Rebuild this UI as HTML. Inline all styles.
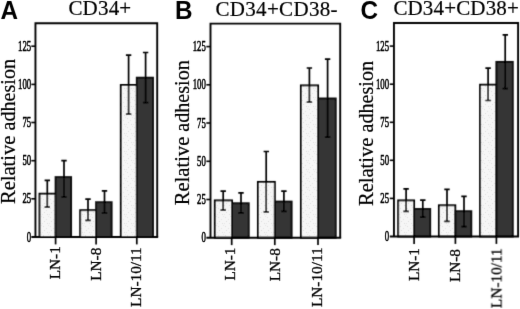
<!DOCTYPE html>
<html><head><meta charset="utf-8"><title>Relative adhesion</title>
<style>
html,body{margin:0;padding:0;background:#fff;}
body{width:520px;height:309px;overflow:hidden;}
svg{display:block;}
text{font-family:"Liberation Serif",serif;fill:#000;}
.b{font-family:"Liberation Sans",sans-serif;font-weight:bold;}
</style></head><body>
<svg width="520" height="309" viewBox="0 0 520 309">
<defs>
<pattern id="stip" width="7" height="9" patternUnits="userSpaceOnUse">
<rect width="7" height="9" fill="#f6f6f6"/>
<rect x="1" y="1" width="1" height="1" fill="#dedede"/><rect x="4" y="3" width="1" height="1" fill="#e2e2e2"/><rect x="2" y="5" width="1" height="1" fill="#dadada"/><rect x="5" y="7" width="1" height="1" fill="#dcdcdc"/><rect x="6" y="0" width="1" height="1" fill="#e6e6e6"/><rect x="0" y="7" width="1" height="1" fill="#e4e4e4"/>
</pattern>
<filter id="soft" x="-2%" y="-2%" width="104%" height="104%"><feConvolveMatrix order="3" kernelMatrix="1 6 1 6 36 6 1 6 1" divisor="64" edgeMode="duplicate" preserveAlpha="false"/></filter>
<filter id="soft2" x="-2%" y="-2%" width="104%" height="104%"><feConvolveMatrix order="3" kernelMatrix="0 1 0 1 12 1 0 1 0" divisor="16" edgeMode="duplicate" preserveAlpha="false"/></filter>
</defs>
<rect width="520" height="309" fill="#fff"/>
<g filter="url(#soft)">
<!-- panel A shapes -->
<path d="M35.45,237.0 V23.25 H157.2 V237.0" fill="none" stroke="#000" stroke-width="1.9"/>
<rect x="39.5" y="193.7" width="16.2" height="43.3" fill="url(#stip)" stroke="#000" stroke-width="1.9"/>
<rect x="55.6" y="177.1" width="15.5" height="59.9" fill="#343434" stroke="#0a0a0a" stroke-width="1.9"/>
<path d="M47.3,180.2 V207.2 M44.6,180.4 h5.4 M44.6,207.2 h5.4" fill="none" stroke="#000" stroke-width="1.7"/>
<path d="M64.0,160.5 V197.0 M61.3,160.7 h5.4 M61.3,197.0 h5.4" fill="none" stroke="#000" stroke-width="1.7"/>
<rect x="80.2" y="210.2" width="15.8" height="26.8" fill="url(#stip)" stroke="#000" stroke-width="1.9"/>
<rect x="96.1" y="202.2" width="15.5" height="34.8" fill="#343434" stroke="#0a0a0a" stroke-width="1.9"/>
<path d="M88.0,199.0 V220.3 M85.3,199.2 h5.4 M85.3,220.3 h5.4" fill="none" stroke="#000" stroke-width="1.7"/>
<path d="M104.5,190.7 V212.9 M101.8,190.9 h5.4 M101.8,212.9 h5.4" fill="none" stroke="#000" stroke-width="1.7"/>
<rect x="120.8" y="85.0" width="16.1" height="152.0" fill="url(#stip)" stroke="#000" stroke-width="1.9"/>
<rect x="136.8" y="77.7" width="16.2" height="159.3" fill="#343434" stroke="#0a0a0a" stroke-width="1.9"/>
<path d="M128.6,55.0 V114.2 M125.9,55.2 h5.4 M125.9,114.2 h5.4" fill="none" stroke="#000" stroke-width="1.7"/>
<path d="M145.6,52.3 V102.6 M142.9,52.5 h5.4 M142.9,102.6 h5.4" fill="none" stroke="#000" stroke-width="1.7"/>
<path d="M31.250000000000004,237.0 H158.14999999999998" fill="none" stroke="#000" stroke-width="2.0"/>
<path d="M31.250000000000004,198.8 H35.45" stroke="#000" stroke-width="1.6"/>
<path d="M31.250000000000004,160.7 H35.45" stroke="#000" stroke-width="1.6"/>
<path d="M31.250000000000004,122.5 H35.45" stroke="#000" stroke-width="1.6"/>
<path d="M31.250000000000004,84.4 H35.45" stroke="#000" stroke-width="1.6"/>
<path d="M31.250000000000004,46.2 H35.45" stroke="#000" stroke-width="1.6"/>
<path d="M55.6,237.0 V244.4" stroke="#000" stroke-width="1.7"/>
<path d="M96.1,237.0 V244.4" stroke="#000" stroke-width="1.7"/>
<path d="M136.8,237.0 V244.4" stroke="#000" stroke-width="1.7"/>
<!-- panel B shapes -->
<path d="M210.5,237.7 V23.6 H340.2 V237.7" fill="none" stroke="#000" stroke-width="1.9"/>
<rect x="214.8" y="200.4" width="17.2" height="37.3" fill="url(#stip)" stroke="#000" stroke-width="1.9"/>
<rect x="232.0" y="203.3" width="16.7" height="34.4" fill="#343434" stroke="#0a0a0a" stroke-width="1.9"/>
<path d="M223.2,190.9 V210.2 M220.5,191.1 h5.4 M220.5,210.2 h5.4" fill="none" stroke="#000" stroke-width="1.7"/>
<path d="M241.0,192.6 V212.9 M238.3,192.8 h5.4 M238.3,212.9 h5.4" fill="none" stroke="#000" stroke-width="1.7"/>
<rect x="257.9" y="181.9" width="16.9" height="55.8" fill="url(#stip)" stroke="#000" stroke-width="1.9"/>
<rect x="274.9" y="201.6" width="16.7" height="36.1" fill="#343434" stroke="#0a0a0a" stroke-width="1.9"/>
<path d="M266.2,151.3 V211.9 M263.6,151.5 h5.4 M263.6,211.9 h5.4" fill="none" stroke="#000" stroke-width="1.7"/>
<path d="M283.9,190.9 V211.4 M281.2,191.1 h5.4 M281.2,211.4 h5.4" fill="none" stroke="#000" stroke-width="1.7"/>
<rect x="300.9" y="85.4" width="17.2" height="152.3" fill="url(#stip)" stroke="#000" stroke-width="1.9"/>
<rect x="318.1" y="98.5" width="17.6" height="139.2" fill="#343434" stroke="#0a0a0a" stroke-width="1.9"/>
<path d="M309.4,67.8 V102.2 M306.7,68.0 h5.4 M306.7,102.2 h5.4" fill="none" stroke="#000" stroke-width="1.7"/>
<path d="M327.6,59.0 V137.2 M324.9,59.2 h5.4 M324.9,137.2 h5.4" fill="none" stroke="#000" stroke-width="1.7"/>
<path d="M206.3,237.7 H341.15" fill="none" stroke="#000" stroke-width="2.0"/>
<path d="M206.3,199.5 H210.5" stroke="#000" stroke-width="1.6"/>
<path d="M206.3,161.3 H210.5" stroke="#000" stroke-width="1.6"/>
<path d="M206.3,123.0 H210.5" stroke="#000" stroke-width="1.6"/>
<path d="M206.3,84.8 H210.5" stroke="#000" stroke-width="1.6"/>
<path d="M206.3,46.6 H210.5" stroke="#000" stroke-width="1.6"/>
<path d="M231.7,237.7 V245.1" stroke="#000" stroke-width="1.7"/>
<path d="M274.8,237.7 V245.1" stroke="#000" stroke-width="1.7"/>
<path d="M318.0,237.7 V245.1" stroke="#000" stroke-width="1.7"/>
<!-- panel C shapes -->
<path d="M393.95,236.5 V23.0 H518.1 V236.5" fill="none" stroke="#000" stroke-width="1.9"/>
<rect x="398.2" y="200.4" width="15.9" height="36.1" fill="url(#stip)" stroke="#000" stroke-width="1.9"/>
<rect x="414.2" y="209.0" width="16.0" height="27.5" fill="#343434" stroke="#0a0a0a" stroke-width="1.9"/>
<path d="M406.1,188.7 V211.3 M403.4,188.9 h5.4 M403.4,211.3 h5.4" fill="none" stroke="#000" stroke-width="1.7"/>
<path d="M422.8,200.0 V217.1 M420.1,200.2 h5.4 M420.1,217.1 h5.4" fill="none" stroke="#000" stroke-width="1.7"/>
<rect x="438.9" y="205.3" width="16.4" height="31.2" fill="url(#stip)" stroke="#000" stroke-width="1.9"/>
<rect x="455.4" y="211.2" width="15.9" height="25.3" fill="#343434" stroke="#0a0a0a" stroke-width="1.9"/>
<path d="M447.0,189.2 V221.4 M444.3,189.4 h5.4 M444.3,221.4 h5.4" fill="none" stroke="#000" stroke-width="1.7"/>
<path d="M464.0,196.2 V226.7 M461.3,196.4 h5.4 M461.3,226.7 h5.4" fill="none" stroke="#000" stroke-width="1.7"/>
<rect x="480.1" y="84.7" width="16.2" height="151.8" fill="url(#stip)" stroke="#000" stroke-width="1.9"/>
<rect x="496.4" y="61.9" width="16.4" height="174.6" fill="#343434" stroke="#0a0a0a" stroke-width="1.9"/>
<path d="M488.1,68.0 V100.5 M485.4,68.2 h5.4 M485.4,100.5 h5.4" fill="none" stroke="#000" stroke-width="1.7"/>
<path d="M505.2,34.6 V88.7 M502.6,34.8 h5.4 M502.6,88.7 h5.4" fill="none" stroke="#000" stroke-width="1.7"/>
<path d="M389.75,236.5 H519.0500000000001" fill="none" stroke="#000" stroke-width="2.0"/>
<path d="M389.75,198.4 H393.95" stroke="#000" stroke-width="1.6"/>
<path d="M389.75,160.3 H393.95" stroke="#000" stroke-width="1.6"/>
<path d="M389.75,122.3 H393.95" stroke="#000" stroke-width="1.6"/>
<path d="M389.75,84.2 H393.95" stroke="#000" stroke-width="1.6"/>
<path d="M389.75,46.1 H393.95" stroke="#000" stroke-width="1.6"/>
<path d="M414.1,236.5 V243.9" stroke="#000" stroke-width="1.7"/>
<path d="M455.4,236.5 V243.9" stroke="#000" stroke-width="1.7"/>
<path d="M496.4,236.5 V243.9" stroke="#000" stroke-width="1.7"/>
</g>
<g filter="url(#soft2)">
<!-- panel A text -->
<text class="b" transform="translate(0.6,18.8) scale(1,1.055)" font-size="24.3">A</text>
<text x="68.4" y="15.2" font-size="21" letter-spacing="0.2" stroke="#000" stroke-width="0.2">CD34+</text>
<text transform="translate(15.1,204.1) rotate(-90)" font-size="21" textLength="68.6" lengthAdjust="spacingAndGlyphs" stroke="#000" stroke-width="0.2">Relative</text>
<text transform="translate(15.1,130.5) rotate(-90)" font-size="21" textLength="71.5" lengthAdjust="spacingAndGlyphs" stroke="#000" stroke-width="0.2">adhesion</text>
<text transform="translate(31.2,241.5) scale(0.61,1)" text-anchor="end" font-size="14.4" stroke="#000" stroke-width="0.6">0</text>
<text transform="translate(31.2,203.3) scale(0.61,1)" text-anchor="end" font-size="14.4" stroke="#000" stroke-width="0.6">25</text>
<text transform="translate(31.2,165.2) scale(0.61,1)" text-anchor="end" font-size="14.4" stroke="#000" stroke-width="0.6">50</text>
<text transform="translate(31.2,127.0) scale(0.61,1)" text-anchor="end" font-size="14.4" stroke="#000" stroke-width="0.6">75</text>
<text transform="translate(31.2,88.9) scale(0.61,1)" text-anchor="end" font-size="14.4" stroke="#000" stroke-width="0.6">100</text>
<text transform="translate(31.2,50.7) scale(0.61,1)" text-anchor="end" font-size="14.4" stroke="#000" stroke-width="0.6">125</text>
<text transform="translate(60.4,246.2) rotate(-90) scale(1.025,1)" text-anchor="end" font-size="14.9" stroke="#000" stroke-width="0.3">LN-1</text>
<text transform="translate(101.3,247.7) rotate(-90) scale(1.025,1)" text-anchor="end" font-size="14.9" stroke="#000" stroke-width="0.3">LN-8</text>
<text transform="translate(140.6,247.3) rotate(-90) scale(1.025,1)" text-anchor="end" font-size="14.9" stroke="#000" stroke-width="0.3">LN-10/11</text>
<!-- panel B text -->
<text class="b" transform="translate(175.1,18.8) scale(1,1.055)" font-size="24.3">B</text>
<text x="215.4" y="16.4" font-size="21" letter-spacing="0.33" stroke="#000" stroke-width="0.2">CD34+CD38-</text>
<text transform="translate(189.1,205.3) rotate(-90)" font-size="21" textLength="68.6" lengthAdjust="spacingAndGlyphs" stroke="#000" stroke-width="0.2">Relative</text>
<text transform="translate(189.1,131.7) rotate(-90)" font-size="21" textLength="71.5" lengthAdjust="spacingAndGlyphs" stroke="#000" stroke-width="0.2">adhesion</text>
<text transform="translate(205.8,242.2) scale(0.61,1)" text-anchor="end" font-size="14.4" stroke="#000" stroke-width="0.6">0</text>
<text transform="translate(205.8,204.0) scale(0.61,1)" text-anchor="end" font-size="14.4" stroke="#000" stroke-width="0.6">25</text>
<text transform="translate(205.8,165.8) scale(0.61,1)" text-anchor="end" font-size="14.4" stroke="#000" stroke-width="0.6">50</text>
<text transform="translate(205.8,127.5) scale(0.61,1)" text-anchor="end" font-size="14.4" stroke="#000" stroke-width="0.6">75</text>
<text transform="translate(205.8,89.3) scale(0.61,1)" text-anchor="end" font-size="14.4" stroke="#000" stroke-width="0.6">100</text>
<text transform="translate(205.8,51.1) scale(0.61,1)" text-anchor="end" font-size="14.4" stroke="#000" stroke-width="0.6">125</text>
<text transform="translate(235.4,247.5) rotate(-90) scale(1.025,1)" text-anchor="end" font-size="14.9" stroke="#000" stroke-width="0.3">LN-1</text>
<text transform="translate(279.6,248.2) rotate(-90) scale(1.025,1)" text-anchor="end" font-size="14.9" stroke="#000" stroke-width="0.3">LN-8</text>
<text transform="translate(322.1,247.4) rotate(-90) scale(1.025,1)" text-anchor="end" font-size="14.9" stroke="#000" stroke-width="0.3">LN-10/11</text>
<!-- panel C text -->
<text class="b" transform="translate(360.4,18.8) scale(1,1.055)" font-size="24.3">C</text>
<text x="393.4" y="15.3" font-size="21" letter-spacing="0.15" stroke="#000" stroke-width="0.2">CD34+CD38+</text>
<text transform="translate(373.0,206.1) rotate(-90)" font-size="21" textLength="68.6" lengthAdjust="spacingAndGlyphs" stroke="#000" stroke-width="0.2">Relative</text>
<text transform="translate(373.0,132.5) rotate(-90)" font-size="21" textLength="71.5" lengthAdjust="spacingAndGlyphs" stroke="#000" stroke-width="0.2">adhesion</text>
<text transform="translate(389.1,241.0) scale(0.61,1)" text-anchor="end" font-size="14.4" stroke="#000" stroke-width="0.6">0</text>
<text transform="translate(389.1,202.9) scale(0.61,1)" text-anchor="end" font-size="14.4" stroke="#000" stroke-width="0.6">25</text>
<text transform="translate(389.1,164.8) scale(0.61,1)" text-anchor="end" font-size="14.4" stroke="#000" stroke-width="0.6">50</text>
<text transform="translate(389.1,126.8) scale(0.61,1)" text-anchor="end" font-size="14.4" stroke="#000" stroke-width="0.6">75</text>
<text transform="translate(389.1,88.7) scale(0.61,1)" text-anchor="end" font-size="14.4" stroke="#000" stroke-width="0.6">100</text>
<text transform="translate(389.1,50.6) scale(0.61,1)" text-anchor="end" font-size="14.4" stroke="#000" stroke-width="0.6">125</text>
<text transform="translate(419.2,248.0) rotate(-90) scale(1.025,1)" text-anchor="end" font-size="14.9" stroke="#000" stroke-width="0.3">LN-1</text>
<text transform="translate(460.0,249.0) rotate(-90) scale(1.025,1)" text-anchor="end" font-size="14.9" stroke="#000" stroke-width="0.3">LN-8</text>
<text transform="translate(501.5,248.3) rotate(-90) scale(1.025,1)" text-anchor="end" font-size="14.9" stroke="#000" stroke-width="0.3">LN-10/11</text>
</g>
</svg>
</body></html>
